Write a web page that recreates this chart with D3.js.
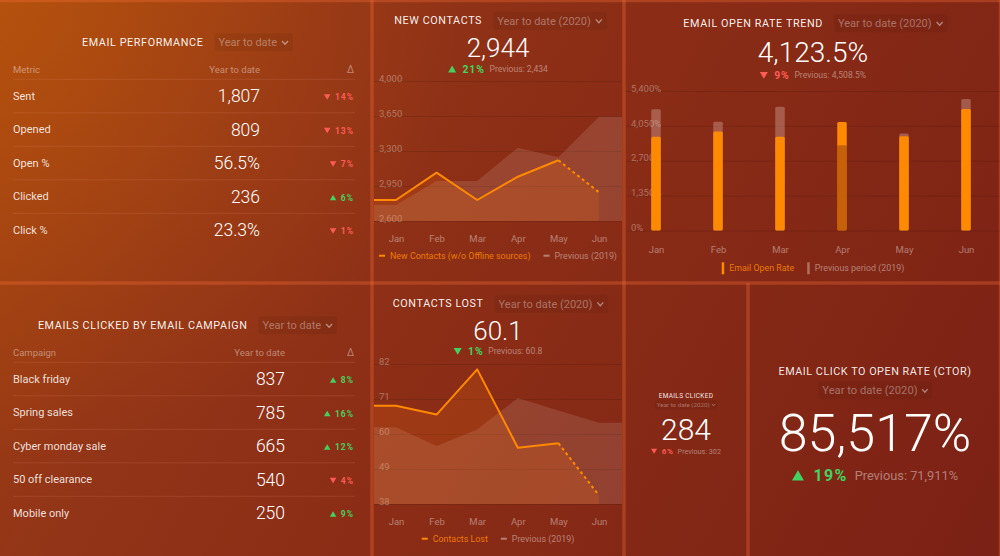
<!DOCTYPE html>
<html><head><meta charset="utf-8">
<script src="https://cdn.jsdelivr.net/npm/d3@7"></script>
<style>
html,body{margin:0;padding:0;background:#8b2d16;overflow:hidden;}
svg{display:block;font-family:Roboto,"Noto Sans",sans-serif;}
</style></head>
<body><svg id="c" width="1000" height="556"></svg>
<script>
// ---------- data ----------
const months = ["Jan","Feb","Mar","Apr","May","Jun"];
const newContacts2020 = [2810, 3083, 2810, 3043, 3207, 2887];
const newContacts2019 = [2760, 3000, 3000, 3333, 3237, 3643];
const newContactsTicks = [2600, 2950, 3300, 3650, 4000];
const openRate2020 = [3625, 3834, 3625, 4196, 3652, 4700];
const openRate2019 = [4689, 4208, 4790, 3302, 3757, 5090];
const openRateTicks = [0, 1350, 2700, 4050, 5400];
const contactsLost2020 = [68.9, 66.1, 80.3, 55.7, 57.1, 40.7];
const contactsLost2019 = [62.1, 56.2, 61.4, 71.3, 67.4, 63.5];
const contactsLostTicks = [38, 49, 60, 71, 82];

const perfMetrics = ["Sent","Opened","Open %","Clicked","Click %"];
const perfValues = [1807, 809, 56.5, 236, 23.3];
const perfIsPct = [false, false, true, false, true];
const perfDeltas = [-14, -13, -7, 6, -1];

const campaignNames = ["Black friday","Spring sales","Cyber monday sale","50 off clearance","Mobile only"];
const campaignValues = [837, 785, 665, 540, 250];
const campaignDeltas = [8, 16, 12, -4, 9];

// KPI values: [current, previous, delta %]
const kpiNewContacts = [2944, 2434, 21];
const kpiOpenRate = [4123.5, 4508.5, -9];
const kpiContactsLost = [60.1, 60.8, -1];
const kpiEmailsClicked = [284, 302, -6];
const kpiCTOR = [85517, 71911, 19];

// ---------- style ----------
const ORANGE = "#ff8a00", RED = "#ff5c57", GREEN = "#43d25f";
const DIM = "rgba(255,255,255,0.36)";
const svg = d3.select("#c");
const defs = svg.append("defs");

const lg = defs.append("linearGradient").attr("id","bg").attr("gradientUnits","userSpaceOnUse")
  .attr("x1",0).attr("y1",0).attr("x2",1000).attr("y2",556);
[[0,"#a4450f"],[0.25,"#933517"],[0.5,"#8b2d16"],[1,"#7b2115"]].forEach(s=>lg.append("stop").attr("offset",s[0]).attr("stop-color",s[1]));
const rg = defs.append("radialGradient").attr("id","glow").attr("gradientUnits","userSpaceOnUse")
  .attr("cx",0).attr("cy",0).attr("r",460);
rg.append("stop").attr("offset",0).attr("stop-color","#cc620c").attr("stop-opacity",0.42);
rg.append("stop").attr("offset",1).attr("stop-color","#cc620c").attr("stop-opacity",0);

svg.append("rect").attr("width",1000).attr("height",556).attr("fill","url(#bg)");
svg.append("rect").attr("width",1000).attr("height",556).attr("fill","url(#glow)");

// panels
const P = {
  perf:{x0:0,x1:370,y0:2,y1:281}, newc:{x0:374,x1:622,y0:2,y1:281}, open:{x0:626,x1:1000,y0:2,y1:281},
  camp:{x0:0,x1:370,y0:285,y1:556}, lost:{x0:374,x1:622,y0:285,y1:556},
  clicked:{x0:626,x1:746,y0:285,y1:556}, ctor:{x0:750,x1:1000,y0:285,y1:556}
};
const cx = p => (p.x0+p.x1)/2;

// gaps between panels (lighter)
const gapColor = "rgba(255,115,60,0.3)";
const gaps = [[0,1,1000,1],[0,283,1000,283],[372,0,372,556],[624,0,624,556],[748,283,748,556],[999.5,0,999.5,556]];
svg.selectAll("line.gap").data(gaps).join("line").attr("class","gap")
  .attr("x1",d=>d[0]).attr("y1",d=>d[1]).attr("x2",d=>d[2]).attr("y2",d=>d[3])
  .attr("stroke",gapColor).attr("stroke-width",(d,i)=>i===0?2.5:(i===5?1.5:3.5));

// ---------- helpers ----------
function chevron(g, x, y, s){
  g.append("path").attr("d",`M${x},${y-s*0.3} L${x+s/2},${y+s*0.25} L${x+s},${y-s*0.3}`)
    .attr("fill","none").attr("stroke","rgba(255,255,255,0.45)").attr("stroke-width",Math.max(0.8,s*0.22));
}
function header(p, cy, title, dd, fs){
  const g = svg.append("g");
  const box = g.append("rect");
  const t = g.append("text").attr("y",cy).attr("dy","0.35em").attr("font-size",fs+0.3).attr("font-weight",400)
    .attr("letter-spacing",0.6).attr("fill","rgba(255,255,255,0.93)").text(title);
  const d = g.append("text").attr("y",cy).attr("dy","0.35em").attr("font-size",fs+0.5).attr("fill",DIM).text(dd);
  const tw = t.node().getComputedTextLength(), dw = d.node().getComputedTextLength();
  const gap = 15, cw = 6, cg = 5;
  const x = cx(p) - (tw+gap+dw+cg+cw)/2;
  t.attr("x",x); d.attr("x",x+tw+gap);
  chevron(g, x+tw+gap+dw+cg, cy+0.5, cw);
  box.attr("x",x+tw+gap-4).attr("y",cy-9).attr("width",dw+cg+cw+9).attr("height",18).attr("rx",3)
    .attr("fill","rgba(0,0,0,0.06)");
}
function stackedHeader(p, cy1, cy2, title, dd, fs1, fs2){
  const g = svg.append("g");
  const box = g.append("rect");
  g.append("text").attr("x",cx(p)).attr("y",cy1).attr("dy","0.35em").attr("text-anchor","middle")
    .attr("font-size",fs1).attr("font-weight",400).attr("letter-spacing",fs1*0.05)
    .attr("fill","rgba(255,255,255,0.9)").text(title);
  const d = g.append("text").attr("y",cy2).attr("dy","0.35em").attr("font-size",fs2).attr("fill",DIM).text(dd);
  const dw = d.node().getComputedTextLength(), cw = fs2*0.5, cg = fs2*0.4;
  const x = cx(p) - (dw+cg+cw)/2;
  d.attr("x",x);
  chevron(g, x+dw+cg, cy2+fs2*0.05, cw);
  box.attr("x",x-fs2*0.35).attr("y",cy2-fs2*0.8).attr("width",dw+cg+cw+fs2*0.75).attr("height",fs2*1.6)
    .attr("rx",3).attr("fill","rgba(0,0,0,0.05)");
}
function bigNumber(p, baseline, text, fs){
  svg.append("text").attr("x",cx(p)).attr("y",baseline).attr("text-anchor","middle")
    .attr("font-size",fs).attr("font-weight",300).attr("fill","#fff").text(text);
}
function triangle(g, x, cy, w, up, color){
  const h = w*0.85;
  const d = up ? `M${x},${cy+h/2} L${x+w/2},${cy-h/2} L${x+w},${cy+h/2} Z`
               : `M${x},${cy-h/2} L${x+w/2},${cy+h/2} L${x+w},${cy-h/2} Z`;
  g.append("path").attr("d",d).attr("fill",color);
}
function deltaLine(p, cy, delta, goodWhenUp, prevText, triW, pctFs, prevFs){
  const up = delta > 0;
  const good = goodWhenUp ? up : !up;
  const col = good ? GREEN : RED;
  const g = svg.append("g");
  const t1 = g.append("text").attr("y",cy).attr("dy","0.35em").attr("font-size",pctFs).attr("font-weight",700)
    .attr("letter-spacing",pctFs*0.08).attr("fill",col).text(Math.abs(delta)+"%");
  const t2 = g.append("text").attr("y",cy).attr("dy","0.35em").attr("font-size",prevFs)
    .attr("fill","rgba(255,255,255,0.42)").text(prevText);
  const w1 = t1.node().getComputedTextLength(), w2 = t2.node().getComputedTextLength();
  const g1 = triW*0.8, g2 = prevFs*0.55;
  const x = cx(p) - (triW+g1+w1+g2+w2)/2;
  triangle(g, x, cy, triW, up, col);
  t1.attr("x", x+triW+g1);
  t2.attr("x", x+triW+g1+w1+g2);
}

// ---------- tables ----------
function table(p, headY, colNames, names, valueText, deltas, valRight){
  const g = svg.append("g");
  const left = 13, right = 355, rowH = 33.5, line0 = headY + 10;
  g.append("text").attr("x",left).attr("y",headY).attr("dy","0.35em").attr("font-size",9.5).attr("fill","rgba(255,255,255,0.42)").text(colNames[0]);
  g.append("text").attr("x",valRight).attr("y",headY).attr("dy","0.35em").attr("text-anchor","end").attr("font-size",9.5).attr("fill","rgba(255,255,255,0.42)").text(colNames[1]);
  g.append("text").attr("x",right-1).attr("y",headY).attr("dy","0.35em").attr("text-anchor","end").attr("font-size",10).attr("fill","rgba(255,255,255,0.42)").text("Δ");
  const rows = g.selectAll("g.row").data(names).join("g").attr("class","row")
    .attr("transform",(d,i)=>`translate(0,${line0 + i*rowH})`);
  rows.append("line").attr("x1",left).attr("x2",right).attr("y1",0).attr("y2",0)
    .attr("stroke","rgba(255,170,140,0.14)").attr("stroke-width",1);
  rows.append("text").attr("x",left).attr("y",rowH/2).attr("dy","0.35em").attr("font-size",11)
    .attr("fill","rgba(255,255,255,0.85)").text(d=>d);
  rows.append("text").attr("x",valRight).attr("y",rowH/2+0.3).attr("dy","0.35em").attr("text-anchor","end")
    .attr("font-size",17.5).attr("font-weight",300).attr("fill","#fff").text((d,i)=>valueText(i));
  rows.each(function(d,i){
    const r = d3.select(this), dv = deltas[i], col = dv>0?GREEN:RED;
    const t = r.append("text").attr("x",right-1).attr("y",rowH/2+1).attr("dy","0.35em").attr("text-anchor","end")
      .attr("font-size",8.5).attr("font-weight",700).attr("letter-spacing",1).attr("fill",col).text(Math.abs(dv)+"%");
    const w = t.node().getComputedTextLength();
    triangle(r, right-1-w-11, rowH/2+1, 6.5, dv>0, col);
  });
}

// Email performance
header(P.perf, 42.3, "EMAIL PERFORMANCE", "Year to date", 10.5);
table(P.perf, 69.3, ["Metric","Year to date"], perfMetrics,
  i => perfIsPct[i] ? d3.format(".1f")(perfValues[i])+"%" : d3.format(",")(perfValues[i]), perfDeltas, 260);

// Emails clicked by campaign
header(P.camp, 325.3, "EMAILS CLICKED BY EMAIL CAMPAIGN", "Year to date", 10.5);
table(P.camp, 352.3, ["Campaign","Year to date"], campaignNames,
  i => d3.format(",")(campaignValues[i]), campaignDeltas, 285);

// ---------- line charts ----------
function lineChart(p, cur, prev, ticks, yRange, xRange, monthY, legendY, curLabel){
  const x = d3.scalePoint().domain(months).range(xRange);
  const y = d3.scaleLinear().domain([ticks[0], ticks[ticks.length-1]]).range(yRange);
  const g = svg.append("g");
  const ax = g.append("g").attr("transform",`translate(${p.x0},0)`)
    .call(d3.axisRight(y).tickValues(ticks).tickSize(p.x1-p.x0).tickFormat(d3.format(",")));
  ax.attr("font-family",null).attr("font-size",null);
  ax.select(".domain").remove();
  ax.selectAll(".tick line").attr("stroke","rgba(0,0,0,0.11)");
  ax.selectAll(".tick text").attr("x",5).attr("dy","0.02em").attr("text-anchor","start")
    .attr("font-size",9.5).attr("fill","rgba(255,255,255,0.34)");

  const pts = (arr, ext) => {
    const a = [[p.x0, arr[0]], ...months.map((m,i)=>[x(m), arr[i]])];
    if (ext) a.push([p.x1, arr[arr.length-1]]);
    return a;
  };
  const area = d3.area().x(d=>d[0]).y0(yRange[0]).y1(d=>y(d[1]));
  const line = d3.line().x(d=>d[0]).y(d=>y(d[1]));
  g.append("path").attr("d",area(pts(prev,true))).attr("fill","rgba(255,255,255,0.115)");
  g.append("path").attr("d",area(pts(cur,false))).attr("fill","rgba(255,120,20,0.17)");
  const cp = pts(cur,false);
  g.append("path").attr("d",line(cp.slice(0,cp.length-1))).attr("fill","none").attr("stroke",ORANGE)
    .attr("stroke-width",2).attr("stroke-linejoin","round");
  g.append("path").attr("d",line(cp.slice(cp.length-2))).attr("fill","none").attr("stroke",ORANGE)
    .attr("stroke-width",2).attr("stroke-dasharray","3,3");

  const xa = g.append("g").attr("transform",`translate(0,${monthY})`).call(d3.axisBottom(x).tickSize(0).tickPadding(0));
  xa.attr("font-family",null).attr("font-size",null);
  xa.select(".domain").remove();
  xa.selectAll("text").attr("dy","0.35em").attr("font-size",9.5).attr("fill","rgba(255,255,255,0.4)");

  legend(p, legendY, [[curLabel, ORANGE, "rgba(255,138,0,0.85)"],["Previous (2019)","rgba(255,255,255,0.4)","rgba(255,255,255,0.42)"]], "dash");
}
function legend(p, cy, items, kind){
  const g = svg.append("g");
  const parts = items.map(it => {
    const t = g.append("text").attr("y",cy).attr("dy","0.35em").attr("font-size",8.9).attr("fill",it[2]).text(it[0]);
    return {t, w: t.node().getComputedTextLength(), c: it[1]};
  });
  const mW = kind==="dash" ? 6 : 2.5, mg = 5, ig = 13;
  const total = d3.sum(parts, d=>mW+mg+d.w) + ig*(parts.length-1);
  let x = cx(p) - total/2;
  parts.forEach(d => {
    if (kind==="dash") g.append("line").attr("x1",x).attr("x2",x+mW).attr("y1",cy).attr("y2",cy).attr("stroke",d.c).attr("stroke-width",2);
    else g.append("rect").attr("x",x).attr("y",cy-6).attr("width",mW).attr("height",12).attr("fill",d.c);
    d.t.attr("x", x+mW+mg);
    x += mW+mg+d.w+ig;
  });
}

// New contacts
header(P.newc, 20.7, "NEW CONTACTS", "Year to date (2020)", 10.5);
bigNumber(P.newc, 57.3, d3.format(",")(kpiNewContacts[0]), 26);
deltaLine(P.newc, 69, kpiNewContacts[2], true, "Previous: "+d3.format(",")(kpiNewContacts[1]), 8, 10.5, 8.6);
lineChart(P.newc, newContacts2020, newContacts2019, newContactsTicks, [221, 81], [396, 599], 238.5, 255.7, "New Contacts (w/o Offline sources)");

// Contacts lost
header(P.lost, 303.7, "CONTACTS LOST", "Year to date (2020)", 10.5);
bigNumber(P.lost, 340, d3.format(".1f")(kpiContactsLost[0]), 26);
deltaLine(P.lost, 351.3, kpiContactsLost[2], false, "Previous: "+d3.format(".1f")(kpiContactsLost[1]), 8, 10.5, 8.6);
lineChart(P.lost, contactsLost2020, contactsLost2019, contactsLostTicks, [504, 364], [396, 599], 521.5, 538.7, "Contacts Lost");

// ---------- bar chart ----------
(function(){
  const p = P.open;
  header(p, 23.3, "EMAIL OPEN RATE TREND", "Year to date (2020)", 10.5);
  bigNumber(p, 61.5, d3.format(",.1f")(kpiOpenRate[0])+"%", 28);
  deltaLine(p, 75.3, kpiOpenRate[2], true, "Previous: "+d3.format(",.1f")(kpiOpenRate[1])+"%", 8, 10.5, 8.6);
  const x = d3.scalePoint().domain(months).range([656, 966]);
  const y = d3.scaleLinear().domain([0, 5400]).range([230.5, 91]);
  const g = svg.append("g");
  const ax = g.append("g").attr("transform",`translate(${p.x0},0)`)
    .call(d3.axisRight(y).tickValues(openRateTicks).tickSize(p.x1-p.x0).tickFormat(d=>d3.format(",")(d)+"%"));
  ax.attr("font-family",null).attr("font-size",null);
  ax.select(".domain").remove();
  ax.selectAll(".tick line").attr("stroke","rgba(0,0,0,0.11)");
  ax.selectAll(".tick text").attr("x",5).attr("dy","0.02em").attr("text-anchor","start")
    .attr("font-size",9.5).attr("fill","rgba(255,255,255,0.34)");
  const bw = 9.5;
  const bars = months.flatMap((m,i) => {
    const c = {m, v: openRate2020[i], kind:"cur"}, pv = {m, v: openRate2019[i], kind:"prev"};
    const front = c.v < pv.v ? c : pv, back = front === c ? pv : c;
    return [Object.assign({}, back, {front:false}), Object.assign({}, front, {front:true})];
  });
  g.selectAll("rect.bar").data(bars).join("rect").attr("class","bar")
    .attr("x",d=>x(d.m)-bw/2).attr("width",bw)
    .attr("y",d=>y(d.v)).attr("height",d=>y(0)-y(d.v)).attr("rx",1.5)
    .attr("fill",d=> d.kind==="cur" ? ORANGE : (d.front ? "rgba(140,55,15,0.5)" : "rgba(235,195,185,0.33)"));
  const xa = g.append("g").attr("transform",`translate(0,249.3)`).call(d3.axisBottom(x).tickSize(0).tickPadding(0));
  xa.attr("font-family",null).attr("font-size",null);
  xa.select(".domain").remove();
  xa.selectAll("text").attr("dy","0.35em").attr("font-size",9.5).attr("fill","rgba(255,255,255,0.4)");
  legend(p, 268.3, [["Email Open Rate", ORANGE, "rgba(255,138,0,0.85)"],["Previous period (2019)","rgba(235,195,185,0.45)","rgba(255,255,255,0.42)"]], "bar");
})();

// ---------- single KPI widgets ----------
stackedHeader(P.clicked, 395.3, 404.7, "EMAILS CLICKED", "Year to date (2020)", 6.5, 6.2);
bigNumber(P.clicked, 439.7, d3.format(",")(kpiEmailsClicked[0]), 30);
deltaLine(P.clicked, 451.3, kpiEmailsClicked[2], true, "Previous: "+d3.format(",")(kpiEmailsClicked[1]), 6, 8, 7.2);

stackedHeader(P.ctor, 371.3, 390.3, "EMAIL CLICK TO OPEN RATE (CTOR)", "Year to date (2020)", 10.8, 11.2);
bigNumber(P.ctor, 451.3, d3.format(",")(kpiCTOR[0])+"%", 52);
deltaLine(P.ctor, 475.3, kpiCTOR[2], true, "Previous: "+d3.format(",")(kpiCTOR[1])+"%", 12, 16, 12.8);
</script>
</body></html>
